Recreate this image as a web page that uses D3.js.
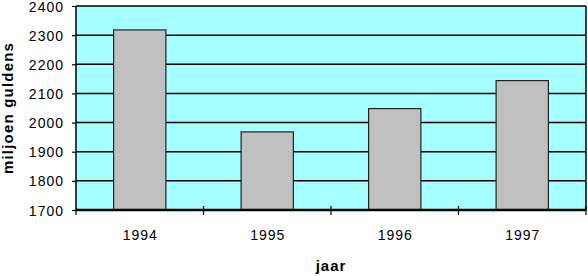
<!DOCTYPE html>
<html>
<head>
<meta charset="utf-8">
<script src="https://cdn.jsdelivr.net/npm/d3@7"></script>
<style>
  html, body { margin: 0; padding: 0; background: #fff; }
  svg { display: block; font-family: "Liberation Sans", Arial, sans-serif; }
</style>
</head>
<body>
<div id="chart"></div>
<script>
// ── Data ──────────────────────────────────────────────────────────────────────
const years  = ['1994', '1995', '1996', '1997'];
const values = [2318, 1968, 2048, 2144];
const yTicks = [1700, 1800, 1900, 2000, 2100, 2200, 2300, 2400];

// ── Layout ────────────────────────────────────────────────────────────────────
const width = 588, height = 276;
const margin = { top: 6, right: 2, bottom: 66, left: 76 };
const innerW = width - margin.left - margin.right;
const innerH = height - margin.top - margin.bottom;

const svg = d3.select('#chart').append('svg')
  .attr('width', width)
  .attr('height', height);

const g = svg.append('g')
  .attr('transform', `translate(${margin.left},${margin.top})`);

const x = d3.scaleBand().domain(years).range([0, innerW]).paddingInner(0.59).paddingOuter(0.295);
const xb = d3.scaleBand().domain(years).range([0, innerW]);
const y = d3.scaleLinear().domain([1700, 2400]).range([innerH, 0]);

// Plot background
g.append('rect')
  .attr('width', innerW).attr('height', innerH)
  .attr('fill', '#a6ffff');

// Gridlines
g.selectAll('.grid')
  .data(yTicks.slice(1))
  .join('line')
  .attr('x1', 0).attr('x2', innerW)
  .attr('y1', (d) => y(d)).attr('y2', (d) => y(d))
  .attr('stroke', '#000').attr('stroke-width', 1.5);

// Right border
g.append('line')
  .attr('x1', innerW).attr('x2', innerW)
  .attr('y1', 0).attr('y2', innerH)
  .attr('stroke', '#000').attr('stroke-width', 1.5);

// Bars
g.selectAll('.bar')
  .data(years)
  .join('rect')
  .attr('x', (d) => x(d))
  .attr('y', (d, i) => y(values[i]))
  .attr('width', x.bandwidth())
  .attr('height', (d, i) => innerH - y(values[i]))
  .attr('fill', '#c0c0c0')
  .attr('stroke', '#222')
  .attr('stroke-width', 1.2);

// Y axis
const yAxis = g.append('g')
  .call(d3.axisLeft(y).tickValues(yTicks).tickSize(4).tickPadding(8).tickFormat(d3.format('d')));
yAxis.select('.domain').attr('stroke', '#000').attr('stroke-width', 1.5).attr('d', `M0,0V${innerH}`);
yAxis.selectAll('.tick line').attr('stroke', '#000').attr('stroke-width', 1.2);
yAxis.selectAll('text')
  .attr('font-size', 14).attr('fill', '#000')
  .attr('letter-spacing', 1)
  .attr('dy', '0.36em')
  .attr('font-family', '"Liberation Sans", Arial, sans-serif');

// X axis
const xAxis = g.append('g')
  .attr('transform', `translate(0,${innerH})`);
xAxis.append('line')
  .attr('x1', 0).attr('x2', innerW)
  .attr('stroke', '#000').attr('stroke-width', 2.5);
xAxis.selectAll('.xtick')
  .data(years)
  .join('line')
  .attr('x1', (d) => xb(d) + xb.bandwidth()).attr('x2', (d) => xb(d) + xb.bandwidth())
  .attr('y1', -4).attr('y2', 5)
  .attr('stroke', '#000').attr('stroke-width', 1.2);
xAxis.append('line')
  .attr('x1', 0).attr('x2', 0).attr('y1', 0).attr('y2', 5)
  .attr('stroke', '#000').attr('stroke-width', 1.2);
xAxis.selectAll('.xlabel')
  .data(years)
  .join('text')
  .attr('x', (d) => xb(d) + xb.bandwidth() / 2 + 0.5)
  .attr('y', 30)
  .attr('text-anchor', 'middle')
  .attr('font-size', 14)
  .attr('letter-spacing', 1)
  .text((d) => d);

// Axis titles
svg.append('text')
  .attr('x', 331).attr('y', 271)
  .attr('text-anchor', 'middle')
  .attr('font-size', 15).attr('font-weight', 'bold')
  .attr('letter-spacing', 1)
  .text('jaar');

svg.append('text')
  .attr('transform', 'translate(13,108) rotate(-90)')
  .attr('text-anchor', 'middle')
  .attr('font-size', 15).attr('font-weight', 'bold')
  .attr('letter-spacing', 1.2)
  .text('miljoen guldens');
</script>
</body>
</html>
